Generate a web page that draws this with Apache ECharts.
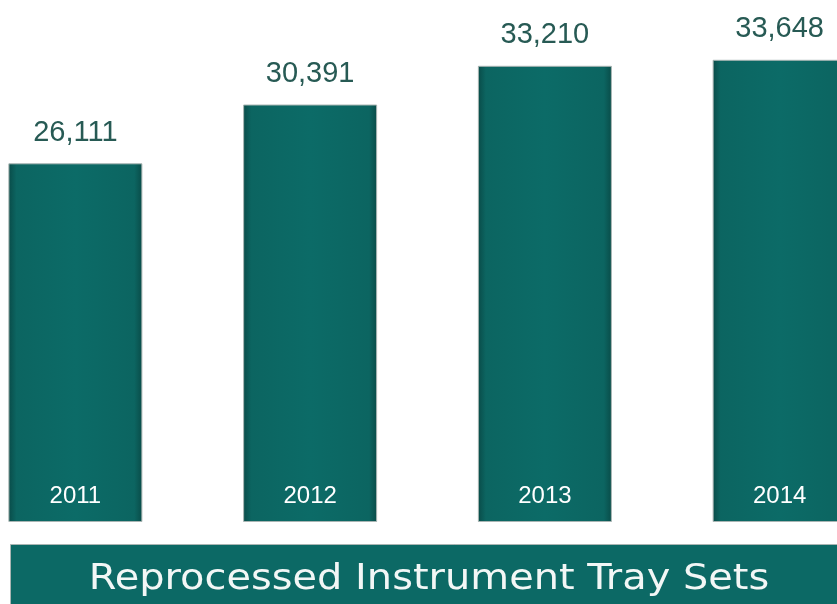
<!DOCTYPE html>
<html>
<head>
<meta charset="utf-8">
<script src="https://cdn.jsdelivr.net/npm/echarts@6/dist/echarts.min.js"></script>
<style>
  html, body { margin: 0; padding: 0; background: #ffffff; overflow: hidden; width: 837px; height: 604px; position: relative; }
  /* the plot runs past both window edges, so the canvas is wider and shifted left */
  #chart { width: 939px; height: 604px; position: absolute; left: -42px; top: 0; }
</style>
</head>
<body>
<div id="chart"></div>
<script>
// Yearly totals of reprocessed instrument tray sets
const years = ['2011', '2012', '2013', '2014'];
const traySets = [26111, 30391, 33210, 33648];
const bannerTitle = 'Reprocessed Instrument Tray Sets';

const chart = echarts.init(document.getElementById('chart'), null, { renderer: 'canvas' });

// Teal bars, slightly darker towards the sides
const barFill = new echarts.graphic.LinearGradient(0, 0, 1, 0, [
  { offset: 0, color: '#094b48' },
  { offset: 0.06, color: '#0c6561' },
  { offset: 0.5, color: '#0c6b67' },
  { offset: 0.94, color: '#0c6561' },
  { offset: 1, color: '#094b48' }
]);

chart.setOption({
  backgroundColor: '#ffffff',
  animation: false,
  grid: { left: 0, right: 0, top: 0, bottom: 82, containLabel: false },
  xAxis: {
    type: 'category',
    data: years,
    z: 10,
    axisLine: { show: false },
    axisTick: { show: false },
    axisLabel: {
      inside: true,
      margin: 14,
      color: '#ffffff',
      fontSize: 24,
      fontFamily: 'Liberation Sans, Arial, sans-serif'
    }
  },
  yAxis: {
    type: 'value',
    min: 0,
    max: 38000,
    show: false,
    splitLine: { show: false }
  },
  series: [{
    type: 'bar',
    data: traySets,
    barWidth: 134,
    itemStyle: {
      color: barFill,
      borderColor: '#a9b5b3',
      borderWidth: 1
    },
    label: {
      show: true,
      position: 'top',
      distance: 16,
      color: '#275a54',
      fontSize: 29,
      fontFamily: 'Liberation Sans, Arial, sans-serif',
      formatter: p => p.value.toLocaleString('en-US')
    }
  }],
  graphic: [
    {
      type: 'rect',
      left: 52,
      top: 544,
      shape: { width: 900, height: 70 },
      style: {
        fill: '#0c6965',
        stroke: '#a9b5b3',
        lineWidth: 1
      },
      z: 5
    },
    {
      type: 'text',
      x: 471,
      y: 580,
      scaleX: 1.14,
      style: {
        text: bannerTitle,
        fill: '#f2f7f6',
        font: '35px "DejaVu Sans", sans-serif',
        align: 'center',
        verticalAlign: 'middle'
      },
      z: 6
    }
  ]
});
</script>
</body>
</html>
